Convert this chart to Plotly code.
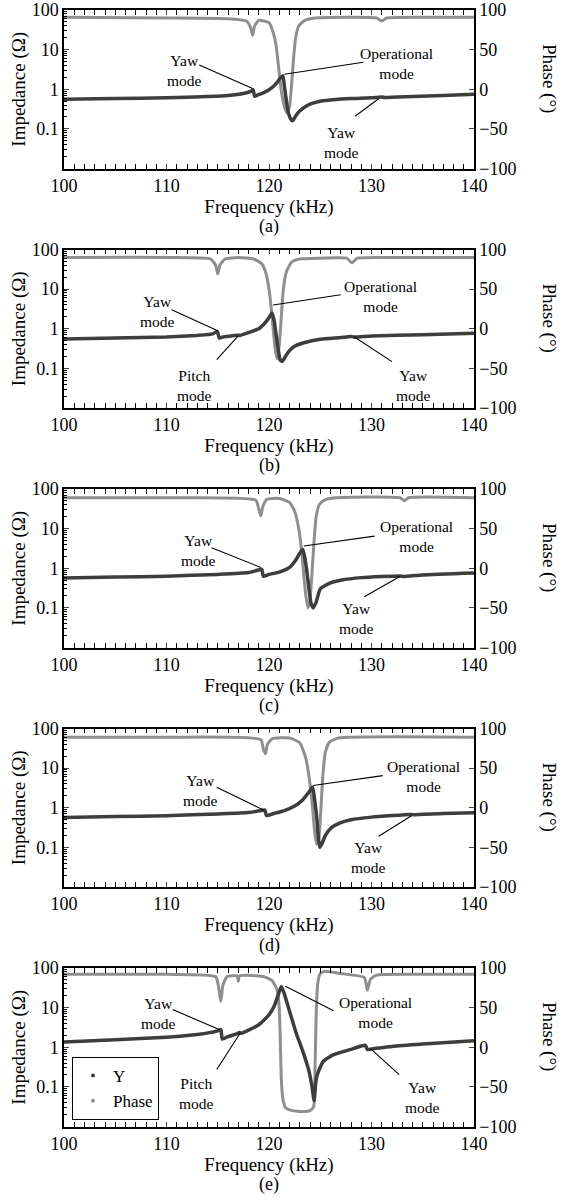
import plotly.graph_objects as go

# ---------------- data ----------------
# Panel (a)
FREQ_A = [100, 105, 110, 114, 116, 117.5, 118.2, 118.45, 118.6, 118.9, 119.5, 120.2, 120.8,
          121.1, 121.35, 121.5, 121.7, 121.9, 122.1, 122.3, 122.5, 122.8, 123.3, 124, 125,
          126.5, 128, 130.5, 131, 131.3, 134, 137, 140]
IMP_A = [0.56, 0.58, 0.61, 0.66, 0.70, 0.78, 0.88, 0.98, 0.66, 0.72, 0.82, 1.05, 1.5,
         1.9, 2.2, 1.2, 0.5, 0.25, 0.18, 0.16, 0.19, 0.25, 0.33, 0.42, 0.5,
         0.55, 0.58, 0.62, 0.64, 0.62, 0.66, 0.70, 0.75]
PH_FREQ_A = [100, 110, 116, 117.8, 118.2, 118.4, 118.6, 119.0, 120.0, 120.4, 120.7, 120.9,
             121.2, 121.5, 121.75, 122.0, 122.2, 122.4, 122.6, 122.9, 123.5, 124.5,
             130.5, 131.0, 131.5, 135, 140]
PHASE_A = [91, 90, 89, 86, 78, 68, 80, 87, 84, 72, 55, 32,
           -2, -22, -30, -22, 5, 40, 65, 80, 87, 90,
           90, 86, 90, 91, 91]

# Panel (b)
FREQ_B = [100, 105, 110, 113, 114.5, 114.95, 115.15, 115.5, 116.5, 117.0, 117.2, 118, 119,
          119.6, 120.0, 120.3, 120.5, 120.7, 120.9, 121.1, 121.3, 121.6, 122.0, 122.5, 123.5,
          125, 127, 128.0, 128.3, 130, 135, 140]
IMP_B = [0.55, 0.58, 0.62, 0.68, 0.74, 0.86, 0.58, 0.62, 0.67, 0.69, 0.68, 0.8, 1.0,
         1.4, 1.9, 2.5, 1.6, 0.7, 0.3, 0.16, 0.15, 0.2, 0.28, 0.36, 0.45,
         0.54, 0.6, 0.64, 0.62, 0.66, 0.71, 0.77]
PH_FREQ_B = [100, 110, 114.3, 114.8, 115.0, 115.2, 115.7, 117, 118.5, 119.3, 119.7, 120.0,
             120.2, 120.4, 120.6, 120.8, 121.0, 121.2, 121.4, 121.7, 122.2, 123, 125,
             127.6, 128.1, 128.6, 132, 140]
PHASE_B = [90, 90, 88, 80, 69, 80, 88, 90, 88, 82, 70, 50,
           28, 0, -25, -38, -20, 15, 50, 72, 84, 88, 89,
           89, 83, 89, 90, 90]

# Panel (c)
FREQ_C = [100, 105, 110, 115, 118, 119.1, 119.3, 119.45, 120, 121, 122, 122.6, 123.0, 123.3,
          123.5, 123.7, 123.9, 124.1, 124.3, 124.6, 125, 126, 127, 129, 132.8, 133.1, 135, 140]
IMP_C = [0.57, 0.6, 0.63, 0.7, 0.78, 0.92, 0.95, 0.63, 0.7, 0.8, 1.05, 1.6, 2.4, 3.0,
         1.8, 0.8, 0.3, 0.13, 0.1, 0.14, 0.3, 0.43, 0.5, 0.58, 0.64, 0.62, 0.68, 0.76]
PH_FREQ_C = [100, 110, 118.7, 119.0, 119.2, 119.4, 119.8, 121, 122.0, 122.5, 122.9, 123.2,
             123.4, 123.6, 123.8, 124.0, 124.2, 124.4, 124.6, 124.9, 125.4, 126.5,
             132.8, 133.2, 133.6, 140]
PHASE_C = [89, 89, 86, 75, 66, 78, 87, 88, 83, 72, 50, 20,
           -10, -35, -50, -40, -5, 35, 65, 80, 86, 89,
           89, 85, 89, 89]

# Panel (d)
FREQ_D = [100, 105, 110, 115, 118, 119.4, 119.6, 119.75, 120.5, 121.5, 122.5, 123.3, 123.9,
          124.25, 124.45, 124.65, 124.8, 124.95, 125.2, 125.5, 126, 127, 128, 130, 133.8,
          134.1, 137, 140]
IMP_D = [0.57, 0.6, 0.63, 0.7, 0.76, 0.86, 0.88, 0.64, 0.72, 0.85, 1.1, 1.6, 2.5,
         3.3, 1.6, 0.6, 0.2, 0.1, 0.13, 0.2, 0.3, 0.42, 0.5, 0.58, 0.68,
         0.67, 0.72, 0.75]
PH_FREQ_D = [100, 110, 119.2, 119.45, 119.65, 119.85, 120.3, 122, 123.0, 123.6, 124.0,
             124.25, 124.45, 124.65, 124.85, 125.05, 125.25, 125.5, 125.9, 126.8, 140]
PHASE_D = [89, 89, 86, 74, 68, 80, 87, 88, 82, 62, 30,
           0, -30, -46, -40, -5, 40, 70, 83, 88, 89]

# Panel (e)
FREQ_E = [100, 105, 110, 113, 115.0, 115.3, 115.45, 116, 116.9, 117.1, 117.3, 118, 119,
          120, 120.5, 120.9, 121.2, 121.5, 121.9, 122.3, 122.7, 123.1, 123.4, 123.9, 124.2,
          124.4, 124.55, 124.7, 125.3, 126.3, 127.9, 129.4, 129.6, 130.2, 132, 135, 140]
IMP_E = [1.35, 1.55, 1.8, 2.1, 2.6, 2.8, 1.6, 1.85, 2.2, 2.35, 2.25, 2.7, 3.7,
         6.6, 10.8, 21, 34, 22, 10, 4.5, 2.1, 1.1, 0.66, 0.25, 0.1,
         0.045, 0.12, 0.2, 0.44, 0.65, 0.87, 1.12, 0.88, 0.92, 1.05, 1.2, 1.45]
PH_FREQ_E = [100, 110, 114.8, 115.1, 115.3, 115.5, 115.9, 116.9, 117.0, 117.1, 118, 119.5,
             120.3, 120.8, 121.0, 121.1, 121.2, 121.35, 121.6, 122, 123, 124, 124.35,
             124.5, 124.6, 124.75, 125.0, 125.5, 127, 129.3, 129.6, 129.9, 130.5, 135, 140]
PHASE_E = [92, 92, 89, 75, 58, 78, 89, 90, 83, 90, 91, 89,
           84, 72, 50, 10, -40, -65, -76, -79, -81, -80, -75,
           -20, 40, 80, 93, 96, 93, 88, 72, 86, 91, 92, 92]

PANELS = [(FREQ_A, IMP_A, PH_FREQ_A, PHASE_A),
          (FREQ_B, IMP_B, PH_FREQ_B, PHASE_B),
          (FREQ_C, IMP_C, PH_FREQ_C, PHASE_C),
          (FREQ_D, IMP_D, PH_FREQ_D, PHASE_D),
          (FREQ_E, IMP_E, PH_FREQ_E, PHASE_E)]

PANEL_LABELS = ["(a)", "(b)", "(c)", "(d)", "(e)"]
X_TICKS = [100, 110, 120, 130, 140]
Z_TICKS = [0.1, 1, 10, 100]
Z_TICK_TEXT = ["0.1", "1", "10", "100"]
PHASE_TICKS = [-100, -50, 0, 50, 100]

# Annotation layout: (text, text_x, text_y, line_x0, line_y0, line_x1, line_y1)
# coordinates in (kHz, phase-axis units)
NOTES = [
    [("Yaw<br>mode", 111.8, 24, 113.2, 30.5, 118.4, 1),
     ("Operational<br>mode", 132.4, 32, 129.2, 34, 121.5, 19),
     ("Yaw<br>mode", 127.1, -67, 128.4, -34, 130.7, -12)],
    [("Yaw<br>mode", 109.1, 22, 110.5, 24, 115.0, -2.5),
     ("Operational<br>mode", 130.9, 41, 127, 43, 120.4, 30),
     ("Pitch<br>mode", 112.7, -71, 114.9, -39, 117.0, -9),
     ("Yaw<br>mode", 134.1, -71, 132.0, -41.5, 128.3, -10)],
    [("Yaw<br>mode", 113.1, 23, 114.4, 26, 119.2, 1),
     ("Operational<br>mode", 134.4, 40, 130.3, 40.5, 123.4, 28),
     ("Yaw<br>mode", 128.5, -63, 129.3, -36, 132.8, -10)],
    [("Yaw<br>mode", 113.3, 22, 114.9, 26, 119.5, -3),
     ("Operational<br>mode", 135.1, 40, 131.1, 40.5, 124.3, 28),
     ("Yaw<br>mode", 129.7, -63, 130.7, -36, 133.9, -10)],
    [("Yaw<br>mode", 109.2, 43, 110.6, 47.5, 115.2, 22),
     ("Operational<br>mode", 130.4, 44, 126.3, 46, 121.6, 77),
     ("Pitch<br>mode", 112.9, -58, 114.9, -28, 117.2, 18),
     ("Yaw<br>mode", 135.0, -63, 132.7, -34.5, 129.9, -1.7)],
]

# ---------------- layout constants ----------------
W, H = 582, 1203
LEFT, RIGHT = 64, 474
TOP0, STEP, PH = 10, 239.5, 158.5
FONT = "Liberation Serif"
IMP_COLOR = "#3d3d3d"
PH_COLOR = "#8f8f8f"

fig = go.Figure()
layout = dict(
    width=W, height=H, margin=dict(l=0, r=0, t=0, b=0),
    paper_bgcolor="white", plot_bgcolor="white",
    font=dict(family=FONT, size=17, color="black"),
    showlegend=True,
    legend=dict(x=72 / W, y=1 - 1057 / H, xanchor="left", yanchor="top",
                bgcolor="white", bordercolor="black", borderwidth=1,
                font=dict(family=FONT, size=17), itemwidth=30,
                tracegroupgap=0),
)
annotations = []
shapes = []

minor_log = [m * 10 ** e for e in range(-2, 2) for m in range(2, 10)]

for i, (fz, z, fp, p) in enumerate(PANELS):
    n = i + 1
    xs = "" if n == 1 else str(n)
    yp = 2 * i + 1
    yz = 2 * i + 2
    yps = "" if yp == 1 else str(yp)
    yzs = str(yz)
    top = TOP0 + STEP * i
    bot = top + PH
    dom = [1 - bot / H, 1 - top / H]

    layout["xaxis" + xs] = dict(
        domain=[LEFT / W, RIGHT / W], anchor="y" + yps, range=[100, 140],
        tickvals=X_TICKS, ticks="inside", ticklen=5, tickwidth=1,
        showline=True, linecolor="black", linewidth=1.5, mirror="allticks",
        showgrid=False, zeroline=False,
        minor=dict(ticks="inside", ticklen=3, dtick=1, tickcolor="black"),
        tickfont=dict(family=FONT, size=18),
        title=dict(text="Frequency (kHz)", font=dict(family=FONT, size=19), standoff=2),
        automargin=False,
    )
    layout["yaxis" + yps] = dict(
        domain=dom, anchor="x" + xs, side="right", range=[-100, 100],
        tickvals=PHASE_TICKS, ticks="inside", ticklen=5,
        showline=True, linecolor="black", linewidth=1.5,
        showgrid=False, zeroline=False, tickfont=dict(family=FONT, size=18),
        automargin=False,
    )
    layout["yaxis" + yzs] = dict(
        domain=dom, anchor="x" + xs, overlaying="y" + yps, side="left",
        type="log", range=[-2, 2],
        tickvals=Z_TICKS, ticktext=Z_TICK_TEXT, ticks="inside", ticklen=5,
        showline=True, linecolor="black", linewidth=1.5,
        showgrid=False, zeroline=False, tickfont=dict(family=FONT, size=18),
        minor=dict(ticks="inside", ticklen=3, tickvals=minor_log, tickcolor="black"),
        title=dict(text="Impedance (Ω)", font=dict(family=FONT, size=19), standoff=1),
        automargin=False,
    )

    fig.add_trace(go.Scatter(
        x=fp, y=p, mode="lines",
        line=dict(color=PH_COLOR, width=3, shape="spline", smoothing=0.5),
        xaxis="x" + xs, yaxis="y" + yps, showlegend=False, name="Phase",
        hoverinfo="skip"))
    fig.add_trace(go.Scatter(
        x=fz, y=z, mode="lines",
        line=dict(color=IMP_COLOR, width=3.5, shape="spline", smoothing=0.5),
        xaxis="x" + xs, yaxis="y" + yzs, showlegend=False, name="Y",
        hoverinfo="skip"))

    # right axis title (reads top to bottom)
    annotations.append(dict(
        text="Phase (°)", xref="paper", yref="paper", x=549 / W,
        y=1 - (top + 68) / H, textangle=90, showarrow=False,
        xanchor="center", yanchor="middle", font=dict(family=FONT, size=19)))
    # panel caption
    annotations.append(dict(
        text=PANEL_LABELS[i], xref="paper", yref="paper",
        x=(LEFT + RIGHT) / 2 / W, y=1 - (bot + 58) / H, showarrow=False,
        xanchor="center", yanchor="middle", font=dict(family=FONT, size=18)))

    for (txt, tx, ty, lx0, ly0, lx1, ly1) in NOTES[i]:
        annotations.append(dict(
            text=txt, x=tx, y=ty, xref="x" + xs, yref="y" + yps,
            showarrow=False, xanchor="center", yanchor="middle",
            font=dict(family=FONT, size=15.5)))
        shapes.append(dict(
            type="line", xref="x" + xs, yref="y" + yps,
            x0=lx0, y0=ly0, x1=lx1, y1=ly1,
            line=dict(color="black", width=1.1)))

# legend-only entries (dot markers) shown in panel (e)
fig.add_trace(go.Scatter(x=[None], y=[None], mode="markers", name="Y",
                         marker=dict(color=IMP_COLOR, size=4),
                         xaxis="x5", yaxis="y10", legendrank=1))
fig.add_trace(go.Scatter(x=[None], y=[None], mode="markers", name="Phase",
                         marker=dict(color=PH_COLOR, size=4),
                         xaxis="x5", yaxis="y9", legendrank=2))

layout["annotations"] = annotations
layout["shapes"] = shapes
fig.update_layout(**layout)
fig.write_html("out.html")
